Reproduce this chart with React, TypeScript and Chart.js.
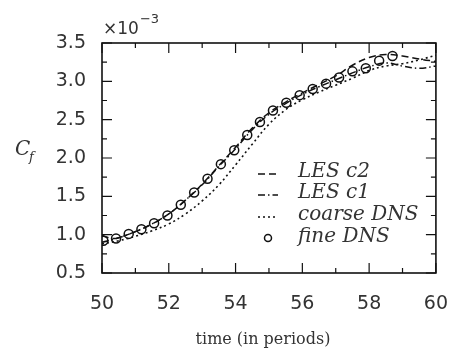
import React, { useEffect, useRef } from "react";
import { Chart, registerables } from "chart.js";

Chart.register(...registerables);

// ---- data ----
const lesC2X = [50.0, 50.3, 50.5, 51.0, 51.5, 52.0, 52.5, 53.0, 53.5, 54.0, 54.5, 55.0, 55.5, 56.0, 56.5, 57.0, 57.5, 58.0, 58.5, 59.0, 59.5, 60.0];
const lesC2Y = [0.99, 0.95, 0.96, 1.04, 1.14, 1.27, 1.45, 1.66, 1.9, 2.14, 2.39, 2.59, 2.73, 2.85, 2.96, 3.07, 3.21, 3.31, 3.35, 3.33, 3.29, 3.26];

const lesC1X = [50.0, 50.5, 51.0, 51.5, 52.0, 52.5, 53.0, 53.5, 54.0, 54.5, 55.0, 55.5, 56.0, 56.5, 57.0, 57.5, 58.0, 58.5, 59.0, 59.5, 60.0];
const lesC1Y = [0.9, 0.96, 1.04, 1.14, 1.27, 1.45, 1.65, 1.89, 2.12, 2.37, 2.57, 2.71, 2.83, 2.93, 3.02, 3.11, 3.19, 3.24, 3.2, 3.17, 3.2];

const coarseX = [50.0, 50.5, 51.0, 51.5, 52.0, 52.5, 53.0, 53.5, 54.0, 54.5, 55.0, 55.5, 56.0, 56.5, 57.0, 57.5, 58.0, 58.5, 59.0, 59.5, 60.0];
const coarseY = [0.88, 0.92, 0.98, 1.05, 1.14, 1.27, 1.44, 1.65, 1.91, 2.18, 2.44, 2.63, 2.76, 2.86, 2.95, 3.04, 3.14, 3.2, 3.23, 3.28, 3.34];

const fineX = [50.04, 50.42, 50.8, 51.18, 51.56, 51.96, 52.36, 52.76, 53.16, 53.56, 53.96, 54.35, 54.73, 55.12, 55.52, 55.92, 56.31, 56.71, 57.1, 57.5, 57.9, 58.3, 58.7];
const fineY = [0.92, 0.95, 1.01, 1.07, 1.15, 1.25, 1.39, 1.55, 1.73, 1.92, 2.1, 2.3, 2.47, 2.62, 2.72, 2.82, 2.9, 2.97, 3.05, 3.13, 3.17, 3.27, 3.33];

const seriesNames = ["LES c2", "LES c1", "coarse DNS", "fine DNS"];

const xMajorTicks = [50, 52, 54, 56, 58, 60];
const xMinorTicks = [51, 53, 55, 57, 59];
const yMajorTicks = [0.5, 1.0, 1.5, 2.0, 2.5, 3.0, 3.5];
const yMinorTicks = [0.75, 1.25, 1.75, 2.25, 2.75, 3.25];

const xTitle = "time (in periods)";
const yTitle = "C";
const yTitleSub = "f";
const scaleNote = "\u00d710";
const scaleExp = "\u22123";

const DASH_C2 = [7, 4];
const DASH_C1 = [7, 3, 1.5, 3];
const DASH_COARSE = [2, 3];

const toPts = (xs: number[], ys: number[]) => xs.map((x, i) => ({ x, y: ys[i] }));

const decorPlugin = {
  id: "decor",
  afterDraw(chart: any) {
    const { ctx, chartArea: a, scales } = chart;
    const xs = scales.x;
    const ys = scales.y;
    ctx.save();
    ctx.strokeStyle = "#111";
    ctx.lineWidth = 1.6;
    ctx.setLineDash([]);
    ctx.strokeRect(a.left, a.top, a.right - a.left, a.bottom - a.top);
    ctx.lineWidth = 1.2;
    const tickX = (v: number, len: number) => {
      const px = xs.getPixelForValue(v);
      ctx.beginPath();
      ctx.moveTo(px, a.bottom);
      ctx.lineTo(px, a.bottom - len);
      ctx.moveTo(px, a.top);
      ctx.lineTo(px, a.top + len);
      ctx.stroke();
    };
    const tickY = (v: number, len: number) => {
      const py = ys.getPixelForValue(v);
      ctx.beginPath();
      ctx.moveTo(a.left, py);
      ctx.lineTo(a.left + len, py);
      ctx.moveTo(a.right, py);
      ctx.lineTo(a.right - len, py);
      ctx.stroke();
    };
    xMajorTicks.forEach((v) => tickX(v, 10));
    xMinorTicks.forEach((v) => tickX(v, 5));
    yMajorTicks.forEach((v) => tickY(v, 10));
    yMinorTicks.forEach((v) => tickY(v, 5));

    // legend
    const dashes = [DASH_C2, DASH_C1, DASH_COARSE];
    const rowOff = [129, 150, 172, 194];
    const symL = a.left + 156;
    const symR = a.left + 176;
    const textX = a.left + 196;
    ctx.fillStyle = "#333";
    ctx.font = "italic 20px 'DejaVu Serif'";
    ctx.textBaseline = "middle";
    ctx.textAlign = "left";
    seriesNames.forEach((name, i) => {
      const y = a.top + rowOff[i];
      if (i < 3) {
        ctx.setLineDash(dashes[i]);
        ctx.lineWidth = 1.5;
        ctx.beginPath();
        ctx.moveTo(symL, y + 2);
        ctx.lineTo(symR, y + 2);
        ctx.stroke();
        ctx.setLineDash([]);
      } else {
        ctx.lineWidth = 1.5;
        ctx.beginPath();
        ctx.arc((symL + symR) / 2, y + 1, 3.5, 0, Math.PI * 2);
        ctx.stroke();
      }
      ctx.fillText(name, textX, y);
    });

    // x title
    ctx.font = "16px 'DejaVu Serif'";
    ctx.textAlign = "center";
    ctx.fillStyle = "#333";
    ctx.fillText(xTitle, a.left + 161, 340);

    // y title C_f
    ctx.font = "italic 20px 'DejaVu Serif'";
    ctx.textAlign = "left";
    ctx.fillText(yTitle, 15, 150);
    ctx.font = "italic 13px 'DejaVu Serif'";
    ctx.fillText(yTitleSub, 29, 158);

    // x10^-3
    ctx.font = "17px 'DejaVu Sans'";
    ctx.textBaseline = "alphabetic";
    ctx.fillText(scaleNote, a.left + 1, 34);
    const w = ctx.measureText(scaleNote).width;
    ctx.font = "13px 'DejaVu Sans'";
    ctx.fillText(scaleExp, a.left + 2 + w, 23);
    ctx.restore();
  },
};

export default function App() {
  const ref = useRef<HTMLCanvasElement | null>(null);
  useEffect(() => {
    document.body.style.margin = "0";
    const canvas = ref.current;
    if (!canvas) return;
    const tickFont = { family: "'DejaVu Sans'", size: 19 };
    const chart = new Chart(canvas, {
      type: "line",
      data: {
        datasets: [
          {
            label: seriesNames[0],
            data: toPts(lesC2X, lesC2Y),
            borderColor: "#111",
            borderWidth: 1.5,
            borderDash: DASH_C2,
            pointRadius: 0,
            tension: 0.4,
            fill: false,
          },
          {
            label: seriesNames[1],
            data: toPts(lesC1X, lesC1Y),
            borderColor: "#111",
            borderWidth: 1.5,
            borderDash: DASH_C1,
            pointRadius: 0,
            tension: 0.4,
            fill: false,
          },
          {
            label: seriesNames[2],
            data: toPts(coarseX, coarseY),
            borderColor: "#111",
            borderWidth: 1.6,
            borderDash: DASH_COARSE,
            pointRadius: 0,
            tension: 0.4,
            fill: false,
          },
          {
            label: seriesNames[3],
            data: toPts(fineX, fineY),
            borderColor: "#111",
            backgroundColor: "rgba(0,0,0,0)",
            showLine: false,
            pointStyle: "circle",
            pointRadius: 4.5,
            pointBorderWidth: 1.5,
            pointBorderColor: "#111",
            pointBackgroundColor: "rgba(0,0,0,0)",
          },
        ],
      },
      options: {
        animation: false,
        responsive: false,
        maintainAspectRatio: false,
        layout: { padding: { left: 0, right: 14, top: 43, bottom: 0 } },
        plugins: { legend: { display: false }, tooltip: { enabled: false } },
        scales: {
          x: {
            type: "linear",
            min: 50,
            max: 60,
            border: { display: false },
            grid: { display: false, drawTicks: false },
            ticks: {
              stepSize: 2,
              padding: 20,
              color: "#333",
              font: tickFont,
              callback: (v: any) => String(v),
            },
            afterFit: (s: any) => {
              s.height = 84;
            },
          },
          y: {
            type: "linear",
            min: 0.5,
            max: 3.5,
            border: { display: false },
            grid: { display: false, drawTicks: false },
            ticks: {
              stepSize: 0.5,
              padding: 16,
              color: "#333",
              font: tickFont,
              callback: (v: any) => Number(v).toFixed(1),
            },
            afterFit: (s: any) => {
              s.width = 102;
            },
          },
        },
      },
      plugins: [decorPlugin],
    } as any);
    return () => chart.destroy();
  }, []);
  return (
    <div style={{ width: 468, height: 357, background: "#fff" }}>
      <canvas ref={ref} width={468} height={357} style={{ display: "block" }} />
    </div>
  );
}
